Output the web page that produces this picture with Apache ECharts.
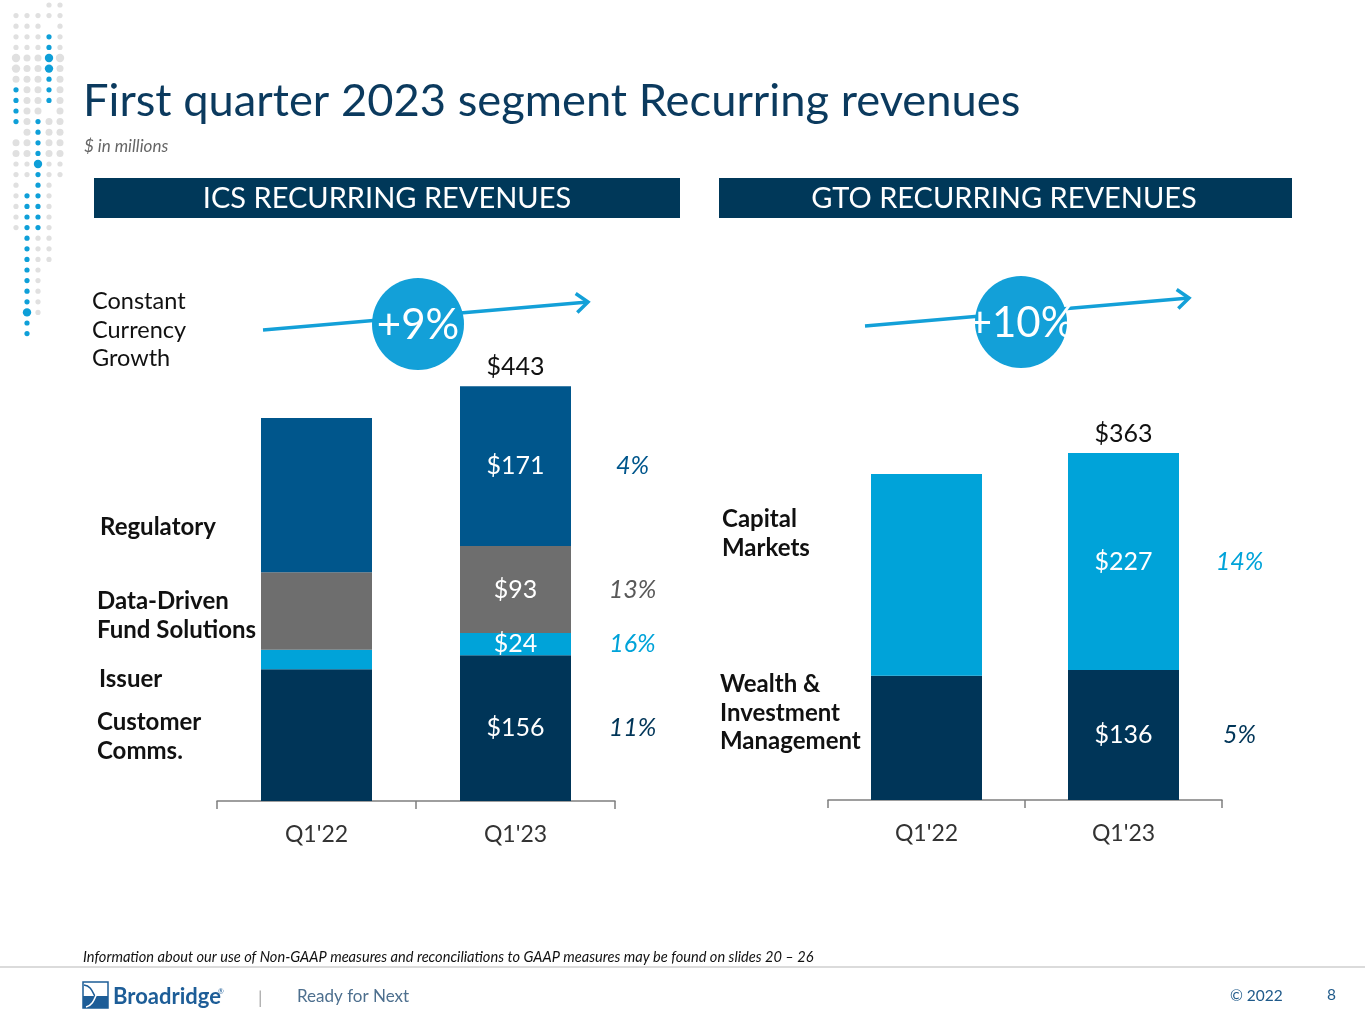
<!DOCTYPE html>
<html>
<head>
<meta charset="utf-8">
<script src="https://cdn.jsdelivr.net/npm/echarts@6/dist/echarts.min.js"></script>
<style>
  html, body { margin: 0; padding: 0; background: #fff; }
  #container { width: 1365px; height: 1024px; }
</style>
</head>
<body>
<div id="container"></div>
<script>
var dom = document.getElementById('container');
var myChart = echarts.init(dom, null, { renderer: 'canvas' });

// data
var quarters = ["Q1'22", "Q1'23"];

var icsSegments = ['Customer Comms.', 'Issuer', 'Data-Driven Fund Solutions', 'Regulatory'];
var icsCustomerComms = [141, 156];
var icsIssuer = [21, 24];
var icsDataDriven = [83, 93];
var icsRegulatory = [165, 171];
var icsGrowth = ['11%', '16%', '13%', '4%'];
var icsTotals = [null, 443];

var gtoSegments = ['Wealth & Investment Management', 'Capital Markets'];
var gtoWealth = [130, 136];
var gtoCapital = [211, 227];
var gtoGrowth = ['5%', '14%'];
var gtoTotals = [null, 363];

var icsColors = ['#003558', '#00a3d9', '#6e6e6e', '#00568c'];
var icsGrowthColors = ['#003558', '#00a3d9', '#595959', '#00568c'];
var gtoColors = ['#003558', '#00a3d9'];
var gtoGrowthColors = ['#003558', '#00a3d9'];

var FONT = 'Lato, "Open Sans", sans-serif';

function buildSeries(names, values, colors, growth, growthColors, totals, gridIdx, stackName, pctOffset) {
    var out = [];
    var cum = 0;
    names.forEach(function (name, i) {
        var v = values[i];
        var mid = cum + v[1] / 2;
        cum += v[1];
        var s = {
            name: name,
            type: 'bar',
            stack: stackName,
            xAxisIndex: gridIdx,
            yAxisIndex: gridIdx,
            barWidth: 111,
            itemStyle: { color: colors[i] },
            label: {
                show: true,
                position: 'inside',
                color: '#fff',
                fontSize: 25,
                fontFamily: FONT,
                formatter: function (p) {
                    return p.dataIndex === 1 ? '$' + p.value : '';
                }
            },
            data: v,
            markPoint: {
                symbol: 'circle',
                symbolSize: 1,
                itemStyle: { color: 'rgba(0,0,0,0)' },
                data: [{
                    coord: [quarters[1], mid],
                    label: {
                        show: true,
                        position: 'inside',
                        offset: [pctOffset, 0],
                        formatter: growth[i],
                        color: growthColors[i],
                        fontStyle: 'italic',
                        fontSize: 25,
                        fontFamily: FONT
                    }
                }]
            }
        };
        if (i === names.length - 1) {
            s.markPoint.data.push({
                coord: [quarters[1], cum],
                label: {
                    show: true,
                    position: 'top',
                    distance: 6,
                    formatter: '$' + totals[1],
                    color: '#111',
                    fontSize: 25,
                    fontFamily: FONT
                }
            });
        }
        out.push(s);
    });
    return out;
}

var series = []
    .concat(buildSeries(icsSegments, [icsCustomerComms, icsIssuer, icsDataDriven, icsRegulatory],
        icsColors, icsGrowth, icsGrowthColors, icsTotals, 0, 'ics', 117))
    .concat(buildSeries(gtoSegments, [gtoWealth, gtoCapital],
        gtoColors, gtoGrowth, gtoGrowthColors, gtoTotals, 1, 'gto', 116));

function xAxisFor(gridIndex) {
    return {
        type: 'category',
        gridIndex: gridIndex,
        data: quarters,
        axisLine: { lineStyle: { color: '#7f7f7f', width: 1.5 } },
        axisTick: { show: true, interval: 0, length: 8, lineStyle: { color: '#7f7f7f', width: 1.5 } },
        axisLabel: { color: '#333', fontSize: 23, fontFamily: FONT, margin: 22 }
    };
}
function yAxisFor(gridIndex) {
    return {
        type: 'value', gridIndex: gridIndex, min: 0, max: 500,
        show: false, splitLine: { show: false }
    };
}

// decorative dots, top left
var dotCols = [
    { x: 16, gray: [8, 80], blue: [88, 132], gray2: [140, 230] },
    { x: 27, gray: [8, 185], blue: [193, 340], gray2: [0, 0] },
    { x: 38, gray: [8, 112], blue: [120, 228], gray2: [236, 320] },
    { x: 49, gray: [4, 20], blue: [27, 110], gray2: [118, 265] },
    { x: 60, gray: [4, 182], blue: [0, 0], gray2: [0, 0] }
];
var bigDots = { '49_58': 1, '49_69': 1, '38_162': 1, '27_317': 1, '16_58': 1, '16_69': 1, '60_58': 1 };
var dots = [];
dotCols.forEach(function (c) {
    for (var y = 5; y <= 342; y += 10.6) {
        var fill = null, r = 2;
        if (y >= c.blue[0] && y <= c.blue[1]) { fill = '#0e9fd8'; r = 2.6; }
        else if ((y >= c.gray[0] && y <= c.gray[1]) || (y >= c.gray2[0] && y <= c.gray2[1])) {
            fill = '#e0e0e0'; r = (y > 50 && y < 160) ? 3.5 : 2.6;
        }
        var key = c.x + '_' + Math.round(y);
        for (var k in bigDots) {
            var p = k.split('_');
            if (+p[0] === c.x && Math.abs(+p[1] - y) < 5.4) r = 4.2;
        }
        if (fill) dots.push({ type: 'circle', shape: { cx: c.x, cy: y, r: r }, style: { fill: fill }, silent: true });
    }
});

function txt(text, x, y, opts) {
    opts = opts || {};
    return {
        type: 'text', x: x, y: y, z: 100,
        style: {
            text: text,
            fill: opts.fill || '#111',
            fontSize: opts.size || 22,
            fontWeight: opts.weight || 'normal',
            fontStyle: opts.style || 'normal',
            fontFamily: opts.family || FONT,
            textAlign: opts.align || 'left',
            textVerticalAlign: opts.valign || 'middle',
            lineHeight: opts.lh || null
        }
    };
}

function growthBadge(x1, y1, x2, y2, cx, cy, label) {
    var blue = '#13a0d8';
    var ang = Math.atan2(y2 - y1, x2 - x1);
    var a1 = ang + Math.PI * 0.78, a2 = ang - Math.PI * 0.78, h = 15;
    return [
        { type: 'line', z: 50, shape: { x1: x1, y1: y1, x2: x2, y2: y2 }, style: { stroke: blue, lineWidth: 3.5 } },
        { type: 'polyline', z: 50, shape: { points: [[x2 + h * Math.cos(a1), y2 + h * Math.sin(a1)], [x2, y2], [x2 + h * Math.cos(a2), y2 + h * Math.sin(a2)]] },
          style: { stroke: blue, lineWidth: 3.5, fill: null } },
        { type: 'circle', z: 60, shape: { cx: cx, cy: cy, r: 46 }, style: { fill: blue } },
        txt(label, cx, cy + 1, { fill: '#fff', size: 42, align: 'center' })
    ];
}

var graphics = [].concat(dots, [
    txt('First quarter 2023 segment Recurring revenues', 83, 101, { fill: '#0b3a5e', size: 45.3 }),
    txt('$ in millions', 84, 147, { fill: '#666', size: 17, style: 'italic' }),
    { type: 'rect', shape: { x: 94, y: 178, width: 586, height: 40 }, style: { fill: '#003859' } },
    { type: 'rect', shape: { x: 719, y: 178, width: 573, height: 40 }, style: { fill: '#003859' } },
    txt('ICS RECURRING REVENUES', 387, 199, { fill: '#fff', size: 29, align: 'center' }),
    txt('GTO RECURRING REVENUES', 1004, 199, { fill: '#fff', size: 29, align: 'center' }),

    txt('Constant\nCurrency\nGrowth', 92, 330, { size: 23.5, lh: 28.5 }),

    txt('Regulatory', 100, 527, { weight: 'bold', size: 24 }),
    txt('Data-Driven\nFund Solutions', 97, 616, { weight: 'bold', size: 24, lh: 29 }),
    txt('Issuer', 99, 679, { weight: 'bold', size: 24 }),
    txt('Customer\nComms.', 97, 737, { weight: 'bold', size: 24, lh: 28.5 }),
    txt('Capital\nMarkets', 722, 534, { weight: 'bold', size: 24, lh: 29 }),
    txt('Wealth &\nInvestment\nManagement', 720, 713, { weight: 'bold', size: 24, lh: 28.5 }),

    txt('Information about our use of Non-GAAP measures and reconciliations to GAAP measures may be found on slides 20 \u2013 26',
        83, 957, { size: 14.6, style: 'italic', fill: '#111' }),
    { type: 'line', shape: { x1: 0, y1: 967, x2: 1365, y2: 967 }, style: { stroke: '#cfcfcf', lineWidth: 1.5 } },

    // logo
    { type: 'rect', shape: { x: 83, y: 982, width: 25, height: 26 }, style: { fill: '#fff', stroke: '#1d5d97', lineWidth: 1.5 } },
    { type: 'rect', shape: { x: 83, y: 996, width: 25, height: 12 }, style: { fill: '#1d5d97' } },
    { type: 'bezierCurve', shape: { x1: 84, y1: 985, x2: 107, y2: 1007, cpx1: 96, cpy1: 986, cpx2: 92, cpy2: 1004 }, style: { stroke: '#1d5d97', lineWidth: 1.5, fill: null } },
    { type: 'bezierCurve', shape: { x1: 107, y1: 985, x2: 86, y2: 1007, cpx1: 94, cpy1: 986, cpx2: 98, cpy2: 1004 }, style: { stroke: '#ffffff', lineWidth: 1.5, fill: null } },
    txt('Broadridge', 113, 997, { fill: '#1d5d97', size: 22, weight: 'bold' }),
    txt('\u00ae', 218, 992, { fill: '#1d5d97', size: 7 }),
    txt('|', 258, 998, { fill: '#aaa', size: 18 }),
    txt('Ready for Next', 297, 997, { fill: '#4d6f8e', size: 17 }),
    txt('\u00a9 2022', 1230, 996, { fill: '#1f5a8a', size: 15.5 }),
    txt('8', 1327, 995, { fill: '#1f5a8a', size: 15.5 })
], growthBadge(263, 330, 588, 302, 418, 324, '+9%'),
   growthBadge(865, 326, 1189, 298, 1021, 322, '+10%'));

myChart.setOption({
    animation: false,
    grid: [
        { left: 217, width: 398, top: 334, height: 467 },
        { left: 828, width: 394, top: 322, height: 478 }
    ],
    xAxis: [xAxisFor(0), xAxisFor(1)],
    yAxis: [yAxisFor(0), yAxisFor(1)],
    series: series,
    graphic: graphics
});

window.addEventListener('resize', function () {
    myChart.resize();
});
</script>
</body>
</html>
